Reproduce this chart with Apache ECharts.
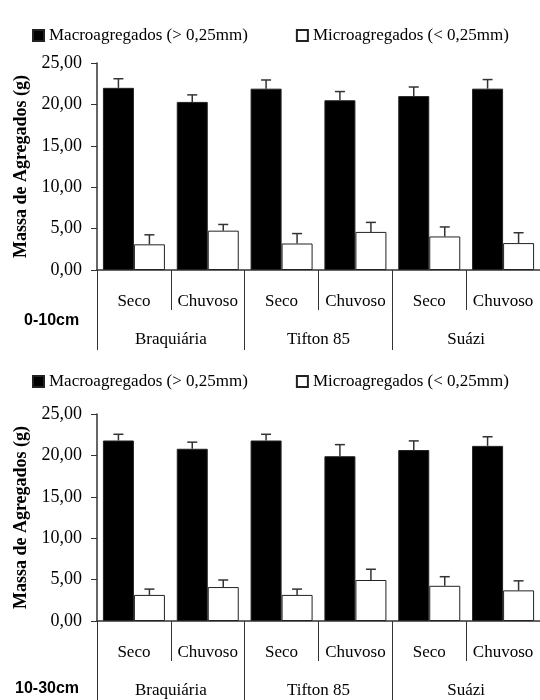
<!DOCTYPE html>
<html>
<head>
<meta charset="utf-8">
<script src="https://cdn.jsdelivr.net/npm/echarts@6/dist/echarts.min.js"></script>
<style>
  html, body { margin: 0; padding: 0; background: #fff; }
  #chart { width: 540px; height: 700px; }
</style>
</head>
<body>
<div id="chart"></div>
<script>
// categorias
var periodos = ['Seco', 'Chuvoso', 'Seco', 'Chuvoso', 'Seco', 'Chuvoso'];
var gramineas = ['Braquiária', 'Tifton 85', 'Suázi'];
var yTicks = [0, 5, 10, 15, 20, 25];

// 0-10cm
var macro1 = [22.0, 20.3, 21.9, 20.5, 21.0, 21.9];
var macro1Err = [1.1, 0.85, 1.05, 1.05, 1.1, 1.1];
var micro1 = [3.1, 4.75, 3.2, 4.6, 4.05, 3.25];
var micro1Err = [1.15, 0.75, 1.2, 1.15, 1.15, 1.25];

// 10-30cm
var macro2 = [21.8, 20.8, 21.8, 19.9, 20.65, 21.15];
var macro2Err = [0.75, 0.8, 0.75, 1.4, 1.1, 1.1];
var micro2 = [3.15, 4.1, 3.15, 4.95, 4.25, 3.7];
var micro2Err = [0.7, 0.85, 0.7, 1.3, 1.1, 1.15];

var chart = echarts.init(document.getElementById('chart'));
var serif = 'Liberation Serif, Times New Roman, serif';
var BW = 31;
var lineCol = '#333';

function fmt(v) { return v.toFixed(2).replace('.', ','); }

function errData(vals, errs) {
    var out = [];
    for (var i = 0; i < vals.length; i++) {
        out.push([i, vals[i], vals[i] + errs[i]]);
    }
    return out;
}

// barras de erro (so para cima)
function errSeries(vals, errs, xi, yi, shift) {
    return {
        type: 'custom',
        xAxisIndex: xi,
        yAxisIndex: yi,
        z: 5,
        silent: true,
        encode: { x: 0, y: [1, 2] },
        data: errData(vals, errs),
        renderItem: function (params, api) {
            var p0 = api.coord([api.value(0), api.value(1)]);
            var p1 = api.coord([api.value(0), api.value(2)]);
            var x = p0[0] + shift;
            var st = { stroke: lineCol, lineWidth: 1.5 };
            return {
                type: 'group',
                children: [
                    { type: 'line', shape: { x1: x, y1: p0[1], x2: x, y2: p1[1] }, style: st },
                    { type: 'line', shape: { x1: x - 5, y1: p1[1], x2: x + 5, y2: p1[1] }, style: st }
                ]
            };
        }
    };
}

function xAxes(gi) {
    return [
        {
            type: 'category',
            gridIndex: gi,
            data: periodos,
            axisLine: { lineStyle: { color: lineCol, width: 1.5 } },
            axisTick: { show: true, length: 40, interval: 0, lineStyle: { color: lineCol, width: 1 } },
            axisLabel: { interval: 0, margin: 23, color: '#000', fontFamily: serif, fontSize: 17 }
        },
        {
            type: 'category',
            gridIndex: gi,
            position: 'bottom',
            data: gramineas,
            axisLine: { show: false },
            axisTick: { show: true, length: 80, interval: 0, lineStyle: { color: lineCol, width: 1 } },
            axisLabel: { interval: 0, margin: 61, color: '#000', fontFamily: serif, fontSize: 17 }
        }
    ];
}

function yAxis(gi) {
    return {
        type: 'value',
        gridIndex: gi,
        min: yTicks[0],
        max: yTicks[yTicks.length - 1],
        interval: 5,
        name: 'Massa de Agregados (g)',
        nameLocation: 'middle',
        nameGap: 59,
        nameTextStyle: { fontFamily: serif, fontSize: 18, fontWeight: 'bold', color: '#000' },
        splitLine: { show: false },
        axisLine: { show: true, lineStyle: { color: lineCol, width: 1.5 } },
        axisTick: { show: true, length: 6, lineStyle: { color: lineCol } },
        axisLabel: { margin: 15, color: '#000', fontFamily: serif, fontSize: 18, formatter: fmt }
    };
}

function legend(top) {
    return {
        top: top,
        left: 27,
        icon: 'rect',
        itemWidth: 11,
        itemHeight: 11,
        itemGap: 48,
        selectedMode: false,
        textStyle: { fontFamily: serif, fontSize: 17, color: '#000' },
        data: ['Macroagregados (> 0,25mm)', 'Microagregados (< 0,25mm)']
    };
}

function bars(name, vals, xi, yi, white) {
    return {
        name: name,
        type: 'bar',
        xAxisIndex: xi,
        yAxisIndex: yi,
        barWidth: BW,
        barGap: '0%',
        data: vals,
        itemStyle: {
            color: white ? '#fff' : '#000',
            borderColor: '#222',
            borderWidth: 1
        }
    };
}

var option = {
    animation: false,
    backgroundColor: '#fff',
    legend: [legend(22), legend(368)],
    grid: [
        { left: 97, right: 0, top: 63, height: 207 },
        { left: 97, right: 0, top: 414, height: 207 }
    ],
    xAxis: xAxes(0).concat(xAxes(1)),
    yAxis: [yAxis(0), yAxis(1)],
    graphic: [
        { type: 'text', left: 24, top: 313, style: { text: '0-10cm', font: 'bold 16px Liberation Sans, Arial, sans-serif', fill: '#000' } },
        { type: 'text', left: 15, top: 681, style: { text: '10-30cm', font: 'bold 16px Liberation Sans, Arial, sans-serif', fill: '#000' } }
    ],
    series: [
        bars('Macroagregados (> 0,25mm)', macro1, 0, 0, false),
        bars('Microagregados (< 0,25mm)', micro1, 0, 0, true),
        errSeries(macro1, macro1Err, 0, 0, -BW / 2),
        errSeries(micro1, micro1Err, 0, 0, BW / 2),
        bars('Macroagregados (> 0,25mm)', macro2, 2, 1, false),
        bars('Microagregados (< 0,25mm)', micro2, 2, 1, true),
        errSeries(macro2, macro2Err, 2, 1, -BW / 2),
        errSeries(micro2, micro2Err, 2, 1, BW / 2)
    ]
};

chart.setOption(option);
</script>
</body>
</html>
